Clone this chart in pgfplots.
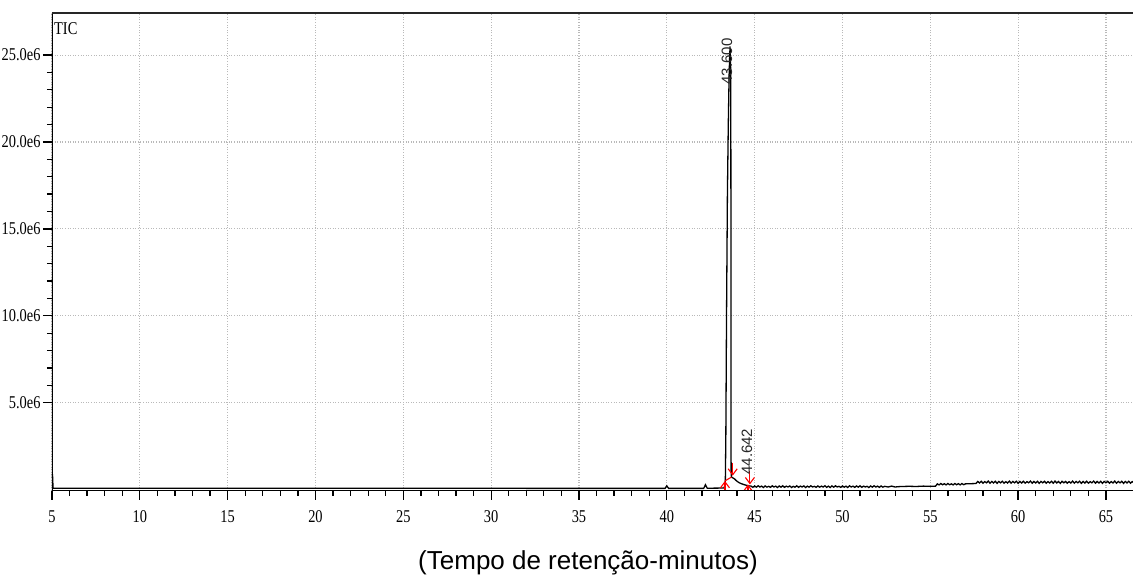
\documentclass[border=0pt]{standalone}
\usepackage{fontspec}
\usepackage{pgfplots}
\pgfplotsset{compat=1.18}
\usetikzlibrary{arrows.meta}
\setmainfont{Liberation Serif}
\newfontfamily\tickfont{Liberation Serif}[FakeStretch=0.8]
\newfontfamily\labsans{Liberation Sans}
\begin{document}
\begin{tikzpicture}
\begin{axis}[
  scale only axis,
  width=1081pt, height=478pt,
  at={(0pt,0pt)}, anchor=south west,
  xmin=5, xmax=66.54,
  ymin=-0.08, ymax=27.42,
  axis line style={draw=none},
  tick align=outside,
  xtick pos=bottom, ytick pos=left,
  xtick={5,10,15,20,25,30,35,40,45,50,55,60,65},
  xticklabels={5,10,15,20,25,30,35,40,45,50,55,60,65},
  minor x tick num=4,
  ytick={5,10,15,20,25},
  yticklabels={5.0e6,10.0e6,15.0e6,20.0e6,25.0e6},
  minor y tick num=4,
  major tick length=9pt, minor tick length=5pt,
  every tick/.style={black, line width=1.3pt},
  tick label style={font=\tickfont\fontsize{18}{18}\selectfont, text=black},
  yticklabel style={xshift=1pt},
  xticklabel style={yshift=-7pt},
  grid=major,
  major grid style={gray!55, line width=1.1pt, dash pattern=on 1pt off 1.6pt},
  clip=true,
]
\addplot[black, line width=1.3pt] coordinates {
(5.0,0.85) (5.03,0.85) (5.06,0.08) (39.9,0.07) (40.0,0.22) (40.1,0.07)
(42.1,0.07) (42.2,0.28) (42.3,0.08) (43.25,0.09) (43.33,0.3) (43.36,3)
(43.4,10) (43.45,17) (43.5,21) (43.55,24) (43.6,25.5) (43.64,24)
(43.655,12) (43.66,1.0) (43.68,0.72) (43.75,0.68) (43.85,0.62)
(43.95,0.52) (44.05,0.44) (44.15,0.38) (44.3,0.32) (44.45,0.27) (44.6,0.23)
(44.7,0.21)
(44.8,0.20) (44.9,0.13) (45.0,0.21) (45.1,0.14) (45.2,0.22) (45.3,0.15)
(45.4,0.20) (45.5,0.12) (45.6,0.21) (45.7,0.14) (45.8,0.19) (45.9,0.13)
(46.0,0.22) (46.1,0.15) (46.2,0.20) (46.3,0.12) (46.4,0.21) (46.5,0.14)
(46.6,0.22) (46.7,0.13) (46.8,0.20) (46.9,0.15) (47.0,0.21) (47.1,0.12)
(47.2,0.19) (47.3,0.14) (47.4,0.22) (47.5,0.13) (47.6,0.20) (47.7,0.15)
(47.8,0.21) (47.9,0.12) (48.0,0.20) (48.1,0.14) (48.2,0.22) (48.3,0.15)
(48.4,0.19) (48.5,0.13) (48.6,0.21) (48.7,0.14) (48.8,0.20) (48.9,0.15)
(49.0,0.22) (49.1,0.13) (49.2,0.20) (49.3,0.12) (49.4,0.21) (49.5,0.14)
(49.6,0.22) (49.7,0.15) (49.8,0.19) (49.9,0.13) (50.0,0.21) (50.1,0.14)
(50.2,0.20) (50.3,0.12) (50.4,0.22) (50.5,0.15) (50.6,0.20) (50.7,0.13)
(50.8,0.21) (50.9,0.14) (51.0,0.22) (51.1,0.13) (51.2,0.20) (51.3,0.15)
(51.4,0.19) (51.5,0.12) (51.6,0.21) (51.7,0.14) (51.8,0.22) (51.9,0.15)
(52.0,0.20) (52.1,0.13) (52.2,0.21) (52.3,0.14) (52.4,0.19) (52.6,0.15)
(52.8,0.20) (53.0,0.15) (53.2,0.17) (53.4,0.18) (53.8,0.19) (54.2,0.18)
(54.6,0.20) (55.0,0.19) (55.3,0.20)
(55.4,0.33) (55.5,0.27) (55.6,0.35) (55.7,0.28) (55.8,0.34) (55.9,0.27)
(56.0,0.35) (56.1,0.28) (56.2,0.33) (56.3,0.27) (56.4,0.35) (56.5,0.28)
(56.6,0.34) (56.7,0.27) (56.8,0.35) (56.9,0.28) (57.0,0.33) (57.3,0.34)
(57.6,0.35)
(57.7,0.47) (57.8,0.38) (57.9,0.48) (58.0,0.37) (58.1,0.46) (58.2,0.39)
(58.3,0.49) (58.4,0.37) (58.5,0.47) (58.6,0.38) (58.7,0.48) (58.8,0.36)
(58.9,0.47) (59.0,0.39) (59.1,0.48) (59.2,0.37) (59.3,0.46) (59.4,0.38)
(59.5,0.49) (59.6,0.37) (59.7,0.47) (59.8,0.39) (59.9,0.48) (60.0,0.36)
(60.1,0.47) (60.2,0.38) (60.3,0.48) (60.4,0.37) (60.5,0.46) (60.6,0.39)
(60.7,0.49) (60.8,0.37) (60.9,0.47) (61.0,0.38) (61.1,0.48) (61.2,0.36)
(61.3,0.47) (61.4,0.39) (61.5,0.48) (61.6,0.37) (61.7,0.46) (61.8,0.38)
(61.9,0.48) (62.0,0.37) (62.1,0.49) (62.2,0.38) (62.3,0.47) (62.4,0.36)
(62.5,0.48) (62.6,0.39) (62.7,0.47) (62.8,0.37) (62.9,0.46) (63.0,0.38)
(63.1,0.49) (63.2,0.37) (63.3,0.47) (63.4,0.39) (63.5,0.48) (63.6,0.36)
(63.7,0.47) (63.8,0.38) (63.9,0.48) (64.0,0.37) (64.1,0.46) (64.2,0.39)
(64.3,0.49) (64.4,0.37) (64.5,0.47) (64.6,0.38) (64.7,0.48) (64.8,0.36)
(64.9,0.47) (65.0,0.39) (65.1,0.48) (65.2,0.37) (65.3,0.46) (65.4,0.38)
(65.5,0.49) (65.6,0.37) (65.7,0.47) (65.8,0.39) (65.9,0.48) (66.0,0.36)
(66.1,0.47) (66.2,0.38) (66.3,0.48) (66.4,0.37) (66.5,0.46) (66.6,0.40)
};
% integration markers
\addplot[red, line width=1.1pt, -{Straight Barb[length=6pt,width=9pt]}] coordinates {(43.31,-0.1) (43.31,0.5)};
\addplot[red, line width=1.1pt] coordinates {(43.31,0.5) (43.68,0.72)};
\addplot[red, line width=1.1pt, -{Straight Barb[length=6pt,width=9pt]}] coordinates {(43.75,1.55) (43.75,0.8)};
\addplot[red, line width=1.1pt, -{Straight Barb[length=6pt,width=9pt]}] coordinates {(44.73,1.05) (44.73,0.3)};
\addplot[red, line width=1.1pt, -{Straight Barb[length=6pt,width=9pt]}] coordinates {(44.62,-0.1) (44.62,0.3)};
% frame lines
\draw[black, line width=1.8pt] (rel axis cs:0,0) -- (rel axis cs:0,1);
\draw[black, line width=1.6pt] (rel axis cs:0,0) -- (rel axis cs:1,0);
\draw[black!85, line width=2.2pt] (rel axis cs:0,1) -- (rel axis cs:1,1);
\node[anchor=north west, inner sep=0pt, font=\tickfont\fontsize{18}{18}\selectfont] at ([xshift=2pt,yshift=-9pt]rel axis cs:0,1) {TIC};
\node[rotate=90, anchor=west, inner sep=0pt, font=\labsans\fontsize{15}{15}\selectfont, text=black!85] at (axis cs:43.42,23.3) {43.600};
\node[rotate=90, anchor=west, inner sep=0pt, font=\labsans\fontsize{15}{15}\selectfont, text=black!85] at (axis cs:44.56,0.85) {44.642};
\end{axis}
\node[font=\labsans\fontsize{26}{26}\selectfont, anchor=center] at (536pt,-72pt) {(Tempo de retenção-minutos)};
\pgfresetboundingbox
\path (-52pt,-84pt) rectangle (1081pt,491pt);
\end{tikzpicture}
\end{document}
